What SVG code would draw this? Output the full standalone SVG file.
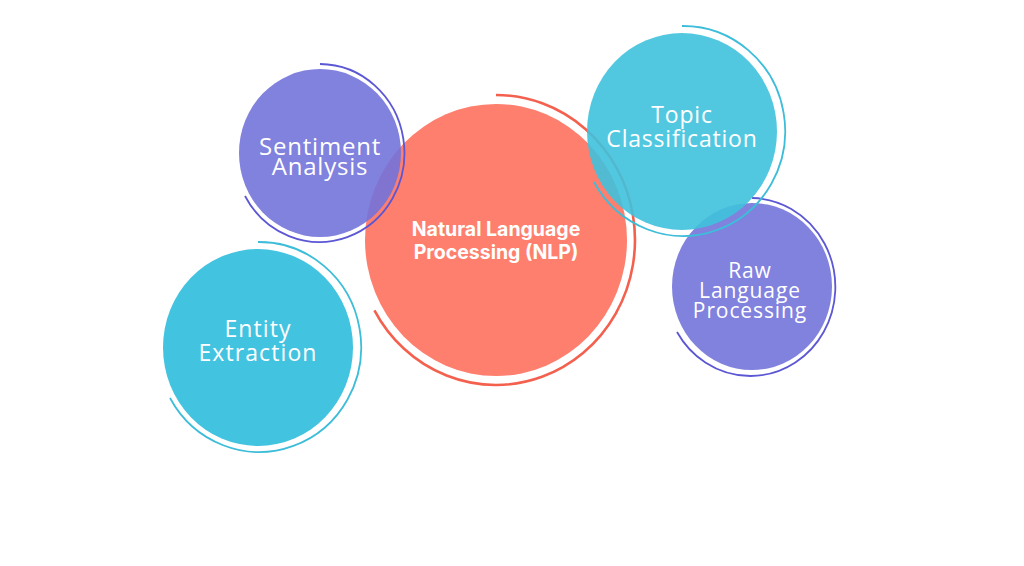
<svg xmlns="http://www.w3.org/2000/svg" width="1024" height="566" viewBox="0 0 1024 566">
<style>
  .lbl { font-family: "Open Sans", "DejaVu Sans", sans-serif; font-weight: 400; fill: #ffffff; text-anchor: middle; }
  .main { font-family: Inter, Roboto, "Liberation Sans", sans-serif; font-weight: 700; font-size: 19.5px; fill: #ffffff; text-anchor: middle; }
  .ring { fill: none; }
  .purple { fill: #7373da; fill-opacity: 0.9; }
  .cyan-e { fill: #42c3e0; }
  .cyan-t { fill: #3fc2dd; fill-opacity: 0.9; }
  .coral { fill: #ff7f6e; }
  .ring-purple { stroke: #5c57d4; stroke-width: 1.8; }
  .ring-cyan { stroke: #3dbdd9; stroke-width: 1.8; }
  .ring-coral { stroke: #f4604e; stroke-width: 2.6; }
</style>
<rect width="1024" height="566" fill="#ffffff"/>

<g id="entity-extraction">
  <ellipse class="cyan-e" cx="258" cy="347.5" rx="95" ry="98.5"/>
  <path class="ring ring-cyan" d="M 258 242 A 102 105 0 1 1 170 398"/>
  <text class="lbl" font-size="23" letter-spacing="1.1" x="258" y="337">Entity</text>
  <text class="lbl" font-size="23" letter-spacing="1.1" x="258" y="361">Extraction</text>
</g>

<g id="nlp">
  <ellipse class="coral" cx="496" cy="240" rx="131" ry="136"/>
  <path class="ring ring-coral" d="M 496 95 A 139 145 0 1 1 374.4 310.3"/>
  <text class="main" x="496" y="236">Natural Language</text>
  <text class="main" x="496" y="259">Processing (NLP)</text>
</g>

<g id="sentiment-analysis">
  <ellipse class="purple" cx="320" cy="153" rx="81" ry="84"/>
  <path class="ring ring-purple" d="M 320 64 A 85 89 0 1 1 245 196"/>
  <text class="lbl" font-size="24" letter-spacing="0.8" x="320" y="155">Sentiment</text>
  <text class="lbl" font-size="24" letter-spacing="0.8" x="320" y="175">Analysis</text>
</g>

<g id="raw-language-processing">
  <ellipse class="purple" cx="752" cy="286.5" rx="80" ry="83.5"/>
  <path class="ring ring-purple" d="M 752 198 A 85 89 0 1 1 677 332"/>
  <text class="lbl" font-size="21" letter-spacing="0.9" x="750" y="278">Raw</text>
  <text class="lbl" font-size="21" letter-spacing="0.9" x="750" y="298">Language</text>
  <text class="lbl" font-size="21" letter-spacing="0.9" x="750" y="318">Processing</text>
</g>

<g id="topic-classification">
  <ellipse class="cyan-t" cx="682" cy="131.5" rx="95" ry="98.5"/>
  <path class="ring ring-cyan" d="M 682 26 A 102 105 0 1 1 594 182"/>
  <text class="lbl" font-size="23" letter-spacing="0.8" x="682" y="123">Topic</text>
  <text class="lbl" font-size="23" letter-spacing="0.8" x="682" y="147">Classification</text>
</g>
</svg>
